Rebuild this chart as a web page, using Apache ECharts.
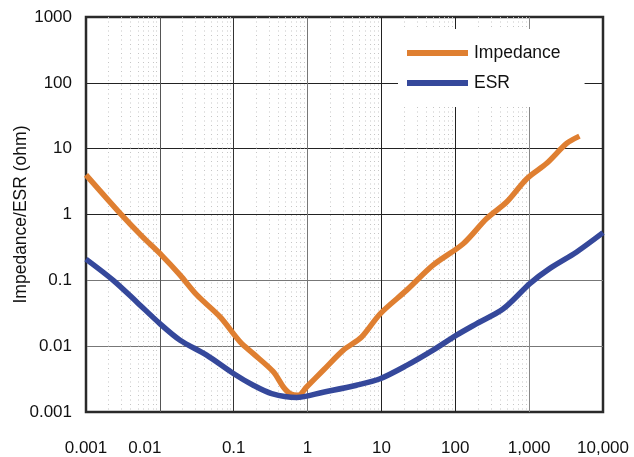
<!DOCTYPE html>
<html>
<head>
<meta charset="utf-8">
<script src="https://cdn.jsdelivr.net/npm/echarts@6/dist/echarts.min.js"></script>
<style>
html,body{margin:0;padding:0;background:#fff;}
#chart{width:634px;height:457px;}
</style>
</head>
<body>
<div id="chart"></div>
<script>
// ---- data ----
var impFreq = [0.001, 0.0029, 0.0057, 0.0106, 0.0188, 0.0316, 0.065, 0.122, 0.184, 0.343, 0.47, 0.58, 0.75, 0.97, 1.63, 3.05, 5.4, 9.6, 22, 50, 128, 266, 500, 930, 1730, 3220, 4800];
var impValues = [4.0, 1.04, 0.47, 0.24, 0.12, 0.06, 0.028, 0.0116, 0.0077, 0.0041, 0.0024, 0.0019, 0.0018, 0.0024, 0.0043, 0.0087, 0.0138, 0.031, 0.071, 0.17, 0.36, 0.87, 1.56, 3.5, 6.0, 12, 15.5];
var esrFreq = [0.001, 0.00234, 0.00486, 0.01, 0.0188, 0.043, 0.099, 0.184, 0.327, 0.71, 1.63, 4.6, 9.6, 22, 50, 104, 195, 447, 1030, 1910, 4400, 10000];
var esrValues = [0.21, 0.1, 0.047, 0.022, 0.0123, 0.0073, 0.00385, 0.00255, 0.0019, 0.00166, 0.002, 0.00255, 0.0032, 0.0051, 0.0087, 0.0147, 0.022, 0.037, 0.09, 0.152, 0.27, 0.53];
var xTickLabels = ['0.001', '0.01', '0.1', '1', '10', '100', '1,000', '10,000'];
var yTickLabels = ['0.001', '0.01', '0.1', '1', '10', '100', '1000'];
var minorDecades = [0.001, 0.01, 0.1, 1, 10, 100];
var minorSteps = [2, 3, 4, 5, 6, 7, 8, 9];

function pairs(xs, ys) { return xs.map(function (x, i) { return [x, ys[i]]; }); }
var minorValues = [];
minorDecades.forEach(function (d) {
  minorSteps.forEach(function (k) { minorValues.push(d * k); });
});

var FONT = "'Liberation Sans', Arial, sans-serif";
var Y_MIN = 0.001, Y_MAX = 1000;
var chart = echarts.init(document.getElementById('chart'), null, { renderer: 'canvas' });
chart.setOption({
  animation: false,
  backgroundColor: '#fff',
  grid: { left: 86, top: 17, right: 31, bottom: 45, outerBoundsMode: 'none', containLabel: false, show: true, borderColor: '#2a2a2a', borderWidth: 2.5, backgroundColor: 'transparent' },
  legend: {
    data: ['Impedance', 'ESR'],
    orient: 'vertical',
    left: 398, top: 29,
    padding: [15, 24, 15, 9],
    itemGap: 12,
    itemWidth: 61, itemHeight: 6,
    icon: 'rect',
    backgroundColor: '#fff',
    textStyle: { fontFamily: FONT, fontSize: 17.5, color: '#111', padding: [0, 0, 0, 1] }
  },
  xAxis: {
    type: 'log', logBase: 10, min: 0.001, max: 10000, splitNumber: 7,
    axisLine: { show: false }, axisTick: { show: false },
    axisLabel: {
      margin: 28, fontFamily: FONT, fontSize: 17, color: '#111',
      formatter: function (v) {
        var i = Math.round(Math.log10(v)) + 3;
        return i === 1 ? '{off|' + xTickLabels[i] + '}' : xTickLabels[i];
      },
      rich: { off: { fontFamily: FONT, fontSize: 17, color: '#111', padding: [0, 30, 0, 0] } }
    },
    splitLine: { show: true, lineStyle: { width: 1, type: 'solid', color: ['#2a2a2a', '#555', '#333', '#777', '#222', '#222', '#888', '#2a2a2a'] } }
  },
  yAxis: {
    type: 'log', logBase: 10, min: Y_MIN, max: Y_MAX, splitNumber: 6,
    name: 'Impedance/ESR (ohm)', nameLocation: 'middle', nameGap: 56, nameMoveOverlap: false,
    nameTextStyle: { fontFamily: FONT, fontSize: 17.5, color: '#111' },
    axisLine: { show: false }, axisTick: { show: false },
    axisLabel: {
      margin: 14, fontFamily: FONT, fontSize: 17, color: '#111',
      formatter: function (v) { return yTickLabels[Math.round(Math.log10(v)) + 3]; }
    },
    splitLine: { show: true, lineStyle: { width: 1, color: ['#2a2a2a', '#777', '#777', '#222', '#222', '#222', '#2a2a2a'] } }
  },
  series: [
    {
      name: 'Impedance', type: 'line', data: pairs(impFreq, impValues),
      smooth: 0.3, showSymbol: false, symbol: 'none', z: 3,
      lineStyle: { color: '#DF7F31', width: 5.5 }, itemStyle: { color: '#DF7F31' }
    },
    {
      name: 'ESR', type: 'line', data: pairs(esrFreq, esrValues),
      smooth: 0.3, showSymbol: false, symbol: 'none', z: 3,
      lineStyle: { color: '#35489B', width: 5.5 }, itemStyle: { color: '#35489B' }
    }
  ]
});

// minor (2..9 per decade) dotted vertical grid lines, positioned through the axis scale
var minorGraphics = minorValues.map(function (v) {
  var pTop = chart.convertToPixel({ gridIndex: 0 }, [v, Y_MAX]);
  var pBot = chart.convertToPixel({ gridIndex: 0 }, [v, Y_MIN]);
  var x = Math.round(pTop[0]) + 0.5;
  return {
    type: 'line', z: 1, silent: true,
    shape: { x1: x, y1: pTop[1], x2: x, y2: pBot[1] },
    style: { stroke: '#c6c6c6', lineWidth: 1, lineDash: [1, 3.5] }
  };
});
chart.setOption({ graphic: minorGraphics });
</script>
</body>
</html>
